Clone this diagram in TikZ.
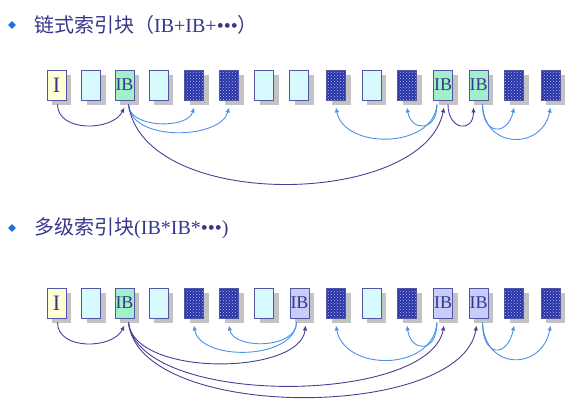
\documentclass[tikz,border=0pt]{standalone}
\usepackage{fontspec}
\setmainfont{Liberation Serif}
\newfontfamily\cjk{Noto Sans CJK SC}
\usetikzlibrary{arrows.meta,shadows,patterns,shapes.geometric}

\definecolor{titlec}{RGB}{55,55,140}
\definecolor{bulletc}{RGB}{30,110,225}
\definecolor{edgec}{RGB}{85,85,165}
\definecolor{shadowc}{RGB}{195,195,195}
\definecolor{inodec}{RGB}{255,255,215}
\definecolor{blankc}{RGB}{215,250,255}
\definecolor{ibc}{RGB}{160,240,200}
\definecolor{ibbc}{RGB}{200,205,250}
\definecolor{datc}{RGB}{40,50,165}
\definecolor{datdotc}{RGB}{175,190,255}
\definecolor{darkc}{RGB}{75,62,150}
\definecolor{lightc}{RGB}{75,145,230}

\tikzset{
  blockbase/.style={draw=edgec, line width=0.9pt, minimum width=19pt,
    minimum height=30pt, inner sep=0pt, text=titlec,
    font=\fontsize{18}{18}\selectfont,
    drop shadow={shadow xshift=5pt, shadow yshift=-5pt, fill=shadowc, opacity=1}},
  inode/.style={blockbase, fill=inodec, font=\fontsize{22}{22}\selectfont},
  blank/.style={blockbase, fill=blankc},
  ib/.style={blockbase, fill=ibc},
  ibb/.style={blockbase, fill=ibbc},
  datblk/.style={blockbase, preaction={fill=datc}, pattern=crosshatch dots,
    pattern color=datdotc},
  dk/.style={draw=darkc, line width=0.9pt, -{Latex[length=5pt,width=4.5pt]}},
  lt/.style={draw=lightc, line width=0.9pt, -{Latex[length=5pt,width=4.5pt]}},
  bullet/.style={diamond, fill=bulletc, inner sep=0pt, minimum size=8pt},
  title/.style={anchor=west, inner sep=0pt, text=titlec,
    font=\fontsize{20}{24}\selectfont}
}

\begin{document}
\begin{tikzpicture}[x=1pt,y=-1pt]
  \useasboundingbox (0,0) rectangle (577,407);

  % titles
  \node[bullet] (d1) at (12,25) {};
  \node[title] (t1) at (34,25) {{\cjk 链式索引块（}IB+IB+•••{\cjk ）}};
  \node[bullet] (d2) at (12,228) {};
  \node[title] (t2) at (34,228) {{\cjk 多级索引块}(IB*IB*•••)};

  % chained index blocks
  \node[inode]  (b1)  at (56.5,85)  {I};
  \node[blank]  (b2)  at (91,85)    {};
  \node[ib]     (b3)  at (124.5,85) {IB};
  \node[blank]  (b4)  at (158.5,85) {};
  \node[datblk] (b5)  at (194,85)   {};
  \node[datblk] (b6)  at (229,85)   {};
  \node[blank]  (b7)  at (264,85)   {};
  \node[blank]  (b8)  at (299,85)   {};
  \node[datblk] (b9)  at (336,85)   {};
  \node[blank]  (b10) at (371.5,85) {};
  \node[datblk] (b11) at (407,85)   {};
  \node[ib]     (b12) at (443,85)   {IB};
  \node[ib]     (b13) at (478.5,85) {IB};
  \node[datblk] (b14) at (514,85)   {};
  \node[datblk] (b15) at (550.5,85) {};

  \draw[dk] ([xshift=1pt,yshift=-4pt]b1.south) .. controls +(0,28) and +(-12,24) .. ([yshift=-7pt]b3.south);
  \draw[lt] ([xshift=4pt,yshift=-4pt]b3.south) .. controls +(0,24) and +(-6,22) .. ([yshift=-7pt]b5.south);
  \draw[lt] ([xshift=4pt,yshift=-4pt]b3.south) .. controls +(2,38) and +(-8,32) .. ([yshift=-7pt]b6.south);
  \draw[dk] ([xshift=4pt,yshift=-4pt]b3.south) .. controls +(15,108) and +(-20,100) .. ([xshift=1pt,yshift=-7pt]b12.south);
  \draw[lt] ([xshift=-6pt,yshift=-4pt]b12.south) .. controls +(0,28) and +(4,24) .. ([yshift=-7pt]b11.south);
  \draw[lt] ([xshift=-6pt,yshift=-4pt]b12.south) .. controls +(-4,45) and +(8,42) .. ([yshift=-7pt]b9.south);
  \draw[dk] ([xshift=5pt,yshift=-4pt]b12.south) .. controls +(0,26) and +(0,26) .. ([xshift=-5pt,yshift=-7pt]b13.south);
  \draw[lt] ([xshift=4pt,yshift=-4pt]b13.south) .. controls +(0,32) and +(-6,28) .. ([yshift=-7pt]b14.south);
  \draw[lt] ([xshift=4pt,yshift=-4pt]b13.south) .. controls +(2,46) and +(-8,42) .. ([yshift=-7pt]b15.south);

  % multi-level index blocks
  \node[inode]  (c1)  at (56.5,303)  {I};
  \node[blank]  (c2)  at (91,303)    {};
  \node[ib]     (c3)  at (124.5,303) {IB};
  \node[blank]  (c4)  at (158.5,303) {};
  \node[datblk] (c5)  at (194,303)   {};
  \node[datblk] (c6)  at (229,303)   {};
  \node[blank]  (c7)  at (264,303)   {};
  \node[ibb]    (c8)  at (299.5,303) {IB};
  \node[datblk] (c9)  at (336,303)   {};
  \node[blank]  (c10) at (371.5,303) {};
  \node[datblk] (c11) at (407,303)   {};
  \node[ibb]    (c12) at (443,303)   {IB};
  \node[ibb]    (c13) at (478.5,303) {IB};
  \node[datblk] (c14) at (514,303)   {};
  \node[datblk] (c15) at (550.5,303) {};

  \draw[dk] ([xshift=1pt,yshift=-4pt]c1.south) .. controls +(0,28) and +(-12,24) .. ([yshift=-7pt]c3.south);
  \draw[dk] ([xshift=4pt,yshift=-4pt]c3.south) .. controls +(5,55) and +(-5,50) .. ([xshift=6pt,yshift=-7pt]c8.south);
  \draw[dk] ([xshift=4pt,yshift=-4pt]c3.south) .. controls +(10,85) and +(-15,80) .. ([xshift=1pt,yshift=-7pt]c12.south);
  \draw[dk] ([xshift=4pt,yshift=-4pt]c3.south) .. controls +(10,100) and +(-15,95) .. ([xshift=-2pt,yshift=-7pt]c13.south);
  \draw[lt] ([xshift=-3pt,yshift=-4pt]c8.south) .. controls +(0,27) and +(4,24) .. ([yshift=-7pt]c6.south);
  \draw[lt] ([xshift=-3pt,yshift=-4pt]c8.south) .. controls +(-2,38) and +(6,36) .. ([yshift=-7pt]c5.south);
  \draw[lt] ([xshift=-6pt,yshift=-4pt]c12.south) .. controls +(0,31) and +(4,27) .. ([yshift=-7pt]c11.south);
  \draw[lt] ([xshift=-6pt,yshift=-4pt]c12.south) .. controls +(-4,50) and +(8,46) .. ([yshift=-7pt]c9.south);
  \draw[lt] ([xshift=4pt,yshift=-4pt]c13.south) .. controls +(0,36) and +(-6,32) .. ([yshift=-7pt]c14.south);
  \draw[lt] ([xshift=4pt,yshift=-4pt]c13.south) .. controls +(2,49) and +(-8,45) .. ([yshift=-7pt]c15.south);

\end{tikzpicture}
\end{document}
